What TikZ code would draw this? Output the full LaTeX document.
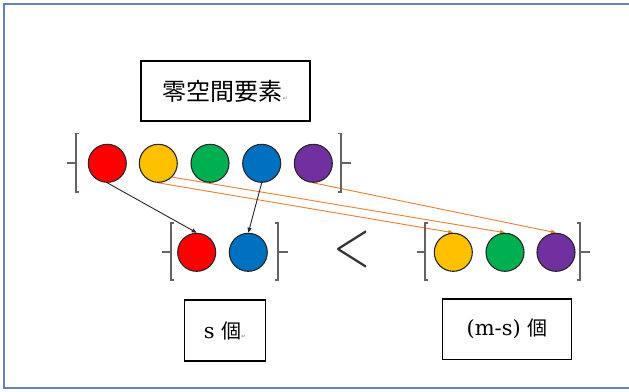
\documentclass[tikz,border=0pt]{standalone}
\usepackage{fontspec}
\usepackage{graphicx}
\setmainfont{DejaVu Serif}
\newfontfamily\jp{Noto Sans CJK JP}
\newfontfamily\symf{DejaVu Sans}
\usetikzlibrary{arrows.meta}
\definecolor{cred}{RGB}{255,0,0}
\definecolor{cyellow}{RGB}{255,192,0}
\definecolor{cgreen}{RGB}{0,176,80}
\definecolor{cblue}{RGB}{0,112,192}
\definecolor{cpurple}{RGB}{112,48,160}
\definecolor{corange}{RGB}{237,125,49}
\definecolor{framecol}{RGB}{95,130,185}
\definecolor{brkcol}{RGB}{100,100,100}
\newcommand\retmark{{\symf\color{gray}\fontsize{6}{6}\selectfont ↵}}
\pgfdeclarelayer{background}
\pgfsetlayers{background,main}
\begin{document}
\begin{tikzpicture}[x=1pt,y=-1pt,
  ball/.style={circle, draw=black!85, line width=1.1pt, minimum size=38pt, inner sep=0pt},
  labelbox/.style={draw=black, line width=1.3pt, inner sep=0pt, align=center},
  brk/.style={draw=brkcol, line width=1.6pt},
  blackarrow/.style={draw=black!85, line width=0.9pt, -{Triangle[length=5pt,width=4pt]}},
  orangearrow/.style={draw=corange, line width=0.9pt, -{Triangle[length=5pt,width=4pt]}}]
\useasboundingbox (0,0) rectangle (629,391);
% frame
\draw[framecol, line width=2.5pt] (640,4) -- (4,4) -- (4,388) -- (640,388);
% title box
\node[labelbox, minimum width=169pt, minimum height=60pt] (title) at (225.5,91)
  {\jp\fontsize{24}{24}\selectfont 零空間要素\retmark};
% top row
\node[ball, fill=cred]    (r1) at (107.3,163.3) {};
\node[ball, fill=cyellow] (y1) at (158.3,163.3) {};
\node[ball, fill=cgreen]  (g1) at (210,163.3) {};
\node[ball, fill=cblue]   (b1) at (261.7,163.3) {};
\node[ball, fill=cpurple] (p1) at (313.3,163.3) {};
% bottom rows
\node[ball, fill=cred]    (r2) at (196.7,252.3) {};
\node[ball, fill=cblue]   (b2) at (248.3,252.3) {};
\node[ball, fill=cyellow] (y2) at (453.3,252.3) {};
\node[ball, fill=cgreen]  (g2) at (505,252.3) {};
\node[ball, fill=cpurple] (p2) at (556,252.3) {};
% brackets
\draw[brk] (79,133.3) -- (75.7,133.3) -- (75.7,191.7) -- (79,191.7);
\draw[brk] (75.7,162.7) -- (66.7,162.7);
\draw[brk] (337.5,133.3) -- (340.7,133.3) -- (340.7,191.7) -- (337.5,191.7);
\draw[brk] (340.7,162.7) -- (351,162.7);
\draw[brk] (174,223) -- (170.7,223) -- (170.7,280) -- (174,280);
\draw[brk] (170.7,252) -- (161.7,252);
\draw[brk] (274.5,223) -- (277.7,223) -- (277.7,280) -- (274.5,280);
\draw[brk] (277.7,252) -- (288,252);
\draw[brk] (428.3,223) -- (425,223) -- (425,280) -- (428.3,280);
\draw[brk] (425,252) -- (416.7,252);
\draw[brk] (576.7,223) -- (580,223) -- (580,280) -- (576.7,280);
\draw[brk] (580,252) -- (590,252);
% less-than sign
\node[inner sep=0pt, text=black!80] (lt) at (352,249) {\scalebox{4.8}[6.4]{$<$}};
% arrows
\begin{pgfonlayer}{background}
\draw[orangearrow] (y1.south) -- (y2.north);
\draw[orangearrow] (y1.south east) -- (g2.north);
\draw[orangearrow] (p1.south) -- (p2.north);
\end{pgfonlayer}
\draw[blackarrow] (r1.south) -- (r2.north);
\draw[blackarrow] (b1.south) -- (b2.north);
% count boxes
\node[labelbox, minimum width=81.4pt, minimum height=61pt] (sbox) at (225,330.5)
  {\fontsize{21}{21}\selectfont s {\jp\fontsize{20}{20}\selectfont 個}\retmark};
\node[labelbox, minimum width=129.4pt, minimum height=60.3pt] (msbox) at (507,329.2)
  {\fontsize{21}{21}\selectfont (m-s) {\jp\fontsize{20}{20}\selectfont 個}};
\end{tikzpicture}
\end{document}
